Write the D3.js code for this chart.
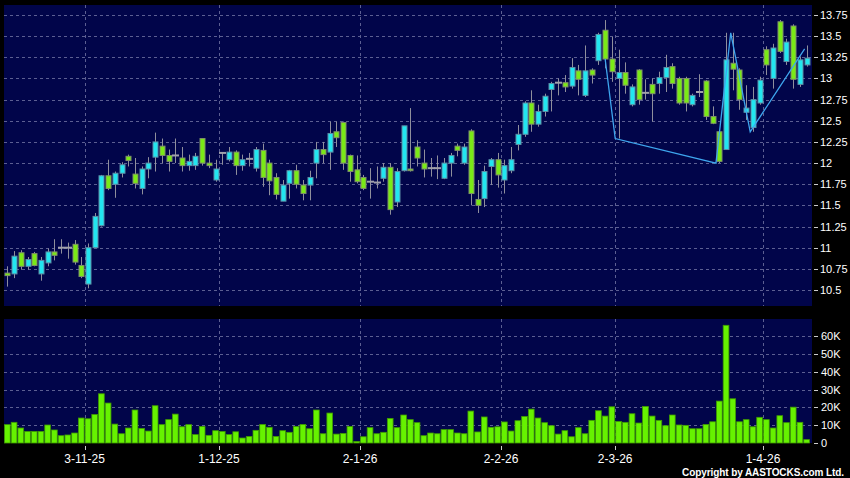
<!DOCTYPE html>
<html><head><meta charset="utf-8">
<script src="https://cdn.jsdelivr.net/npm/d3@7"></script>
<style>html,body{margin:0;padding:0;background:#000;}svg{display:block;}</style>
</head><body><svg id="c" width="850" height="478"></svg>
<script>
// ---- DATA (index 0 = first trading day shown) ----
const opens  = [10.70,10.69,10.94,10.78,10.93,10.69,10.82,10.95,11.00,11.00,11.04,10.79,10.57,11.00,11.26,11.85,11.75,11.88,12.08,11.87,
                11.70,11.93,12.07,12.20,12.09,12.09,12.06,11.97,11.97,12.29,12.00,11.80,12.12,12.04,12.13,11.97,12.05,11.94,12.15,12.00,
                11.83,11.55,11.76,11.91,11.74,11.74,12.00,12.16,12.13,12.37,12.48,12.09,11.92,11.83,11.78,11.77,11.82,11.95,11.54,11.91,
                11.93,12.19,12.00,11.94,11.94,11.82,12.00,12.20,12.00,12.38,11.57,11.58,11.96,12.04,11.80,11.91,12.22,12.34,12.71,12.46,
                12.61,12.87,12.95,12.95,12.91,13.09,12.80,13.10,13.21,13.57,13.23,13.00,13.07,12.69,13.10,12.83,12.93,12.94,13.01,13.14,
                13.00,13.00,12.69,12.84,12.97,12.55,12.37,12.16,13.18,13.10,12.60,12.42,12.71,13.34,13.00,13.67,13.20,13.62,12.93,13.16];
const highs  = [10.78,10.96,10.97,10.89,10.95,10.89,10.99,11.10,11.10,11.06,11.09,10.89,11.05,11.41,11.86,12.04,11.90,12.01,12.10,12.06,
                11.96,12.07,12.36,12.29,12.16,12.29,12.19,12.10,12.12,12.29,12.10,12.04,12.12,12.19,12.15,12.10,12.12,12.19,12.23,12.04,
                11.88,11.80,11.92,11.98,11.80,11.91,12.25,12.25,12.49,12.49,12.49,12.10,12.09,11.86,11.94,11.96,12.00,12.00,11.94,12.44,
                12.65,12.27,12.16,12.06,12.09,12.06,12.12,12.23,12.23,12.40,11.80,11.97,12.06,12.12,12.04,12.19,12.45,12.73,12.86,12.69,
                12.82,12.96,13.00,13.04,13.24,13.16,13.39,13.12,13.54,13.69,13.49,13.34,13.19,12.93,13.11,12.99,13.00,13.08,13.28,13.18,
                13.02,13.02,12.82,13.05,12.98,12.67,12.37,13.54,13.54,13.12,12.92,12.90,13.02,13.38,13.41,13.69,13.47,13.64,13.26,13.39];
const lows   = [10.54,10.64,10.74,10.74,10.78,10.61,10.78,10.85,10.93,10.87,10.80,10.64,10.52,11.00,11.25,11.68,11.59,11.83,11.96,11.70,
                11.63,11.82,11.90,12.00,11.90,12.00,11.90,11.91,11.92,11.97,11.94,11.78,11.98,12.02,11.86,11.91,11.96,11.90,11.72,11.62,
                11.57,11.55,11.58,11.70,11.56,11.56,11.82,12.00,11.92,12.19,11.92,11.78,11.76,11.68,11.58,11.70,11.78,11.39,11.48,11.90,
                11.90,11.96,11.83,11.84,11.81,11.81,11.84,12.08,11.98,11.50,11.41,11.48,11.74,11.71,11.64,11.88,12.15,12.31,12.37,12.43,
                12.55,12.61,12.80,12.84,12.88,12.80,12.78,12.94,13.16,13.12,12.96,12.29,12.82,12.67,12.69,12.75,12.49,12.82,12.84,12.88,
                12.69,12.61,12.67,12.78,12.51,12.46,12.00,12.16,12.86,12.63,12.51,12.37,12.69,13.04,12.88,13.30,13.16,12.88,12.90,13.14];
const closes = [10.67,10.90,10.78,10.86,10.79,10.85,10.95,10.91,11.00,11.00,10.83,10.66,11.00,11.37,11.85,11.70,11.88,11.98,12.03,11.76,
                11.93,12.00,12.25,12.09,12.02,12.09,11.97,12.02,12.08,12.00,11.97,11.93,12.12,12.13,11.97,12.04,12.05,12.16,11.83,11.79,
                11.63,11.74,11.91,11.75,11.64,11.83,12.16,12.10,12.35,12.30,12.00,11.90,11.78,11.70,11.78,11.77,11.95,11.45,11.90,12.44,
                11.91,12.06,11.93,11.94,11.94,12.00,12.09,12.15,12.19,11.64,11.50,11.90,12.04,11.86,11.97,12.04,12.34,12.71,12.46,12.61,
                12.79,12.94,12.95,12.90,13.13,12.99,13.09,13.04,13.52,13.23,13.08,13.07,12.92,12.90,12.75,12.83,12.82,13.01,13.13,12.94,
                12.71,12.71,12.80,12.84,12.55,12.47,12.02,13.22,13.11,12.75,12.65,12.75,12.98,13.16,13.36,13.32,13.43,12.99,13.22,13.24];
const volumesK = [10.3,11.6,8.4,6.5,6.5,6.5,10.1,7.3,4.1,4.5,5.6,14.0,13.6,16.0,27.6,22.4,10.6,5.2,8.4,18.5,
                  8.2,6.7,20.9,10.3,13.1,16.2,9.1,10.3,4.7,9.3,4.3,6.9,6.5,4.7,6.3,2.8,3.7,7.1,10.4,8.8,
                  3.7,6.9,6.0,9.3,10.4,8.0,18.5,5.2,16.8,5.0,5.4,9.3,0.9,3.5,8.6,5.2,6.0,13.8,8.6,15.7,
                  13.1,11.4,4.1,5.6,5.2,7.5,7.5,5.6,5.2,17.9,6.2,14.6,8.8,9.1,11.8,6.7,12.5,14.9,19.0,14.0,
                  11.4,9.7,5.0,6.9,3.5,8.6,5.2,12.7,18.1,15.1,20.3,12.1,11.6,16.4,11.2,20.5,15.1,12.7,9.7,15.7,
                  10.1,9.9,8.0,8.0,10.4,11.9,23.5,66.0,24.8,11.9,13.1,9.1,14.4,13.1,8.4,15.3,11.4,20.1,11.6,1.9];
const xTickIndex  = [11, 31, 52, 73, 90, 112];
const xTickLabels = ["3-11-25","1-12-25","2-1-26","2-2-26","2-3-26","1-4-26"];
const priceTicks  = [10.5,10.75,11,11.25,11.5,11.75,12,12.25,12.5,12.75,13,13.25,13.5,13.75];
const volTicksK   = [0,10,20,30,40,50,60];
const zigzagIndex = [89, 90.5, 105.5, 107.7, 110.6, 118.7];
const zigzagValue = [13.23, 12.29, 12.00, 13.54, 12.37, 13.35];

// ---- LAYOUT ----
const W=850,H=478;
const L=4, R=812, candleR=810;
const pTop=5, pBot=306, vTop=319, vBot=443;
const C = {bg:"#000000", panel:"#01054a", grid:"#5c5f92", up:"#22e6f0", down:"#7aea16",
           wick:"#8f8f9c", doji:"#a0a0aa", vol:"#66f200", volStroke:"#3f9a00", zz:"#3ea6ee", text:"#ffffff"};

const svg=d3.select("#c");
svg.append("rect").attr("width",W).attr("height",H).attr("fill",C.bg);

const n=opens.length;
const x=d3.scaleLinear().domain([-0.5,n-0.5]).range([L,candleR]);
const bw=x(1)-x(0);
const y=d3.scaleLinear().domain([10.5,13.75]).range([290,15]);
const yv=d3.scaleLinear().domain([0,60]).range([vBot,336]);

// panels
svg.append("rect").attr("x",L).attr("y",pTop).attr("width",R-L).attr("height",pBot-pTop).attr("fill",C.panel);
svg.append("rect").attr("x",L).attr("y",vTop).attr("width",R-L).attr("height",vBot-vTop).attr("fill",C.panel);

const grid=svg.append("g").attr("stroke",C.grid).attr("stroke-width",1).attr("stroke-dasharray","3,3").attr("shape-rendering","crispEdges");
grid.selectAll(".hp").data(priceTicks).join("line").attr("x1",L).attr("x2",R)
  .attr("y1",d=>Math.round(y(d))+0.5).attr("y2",d=>Math.round(y(d))+0.5);
grid.selectAll(".hv").data(volTicksK.slice(1)).join("line").attr("x1",L).attr("x2",R)
  .attr("y1",d=>Math.round(yv(d))+0.5).attr("y2",d=>Math.round(yv(d))+0.5);
const gx=d=>Math.round(x(d)+bw/2)+0.5;
grid.selectAll(".vp").data(xTickIndex).join("line").attr("x1",gx).attr("x2",gx).attr("y1",pTop).attr("y2",pBot);
grid.selectAll(".vv").data(xTickIndex).join("line").attr("x1",gx).attr("x2",gx).attr("y1",vTop).attr("y2",vBot);

// candles
const idx=d3.range(n);
const cg=svg.append("g");
cg.selectAll(".w").data(idx).join("line")
  .attr("x1",i=>Math.round(x(i))+0.5).attr("x2",i=>Math.round(x(i))+0.5)
  .attr("y1",i=>y(highs[i])).attr("y2",i=>y(lows[i]))
  .attr("stroke",C.wick).attr("stroke-width",1);
const bodies=idx.filter(i=>opens[i]!==closes[i]);
cg.selectAll(".b").data(bodies).join("rect")
  .attr("x",i=>Math.round(x(i))-2).attr("width",5)
  .attr("y",i=>y(Math.max(opens[i],closes[i])))
  .attr("height",i=>Math.max(1,Math.abs(y(opens[i])-y(closes[i]))))
  .attr("fill",i=>closes[i]>opens[i]?C.up:C.down)
  .attr("stroke",i=>closes[i]>opens[i]?"#5d8ea6":"#7f8f6a").attr("stroke-width",1);
const dojis=idx.filter(i=>opens[i]===closes[i]);
cg.selectAll(".d").data(dojis).join("line")
  .attr("x1",i=>Math.round(x(i))-3).attr("x2",i=>Math.round(x(i))+4)
  .attr("y1",i=>y(opens[i])).attr("y2",i=>y(opens[i]))
  .attr("stroke",C.doji).attr("stroke-width",2);

// zigzag
const zz=d3.line().x(d=>x(d[0])).y(d=>y(d[1]));
svg.append("path").datum(zigzagIndex.map((d,i)=>[d,zigzagValue[i]]))
  .attr("d",zz).attr("fill","none").attr("stroke",C.zz).attr("stroke-width",1.3);

// volume
svg.append("g").selectAll("rect").data(idx).join("rect")
  .attr("x",i=>x(i)-bw/2+0.5).attr("width",bw-1)
  .attr("y",i=>yv(volumesK[i])).attr("height",i=>vBot-yv(volumesK[i]))
  .attr("fill",C.vol).attr("stroke",C.volStroke).attr("stroke-width",0.8);

// right axes
const font="'Liberation Sans', Arial, sans-serif";
const ra=svg.append("g").attr("font-family",font).attr("font-size",11).attr("fill",C.text);
ra.selectAll(".pt").data(priceTicks).join("line").attr("x1",814).attr("x2",818)
  .attr("y1",d=>Math.round(y(d))+0.5).attr("y2",d=>Math.round(y(d))+0.5).attr("stroke","#cccccc");
ra.selectAll(".pl").data(priceTicks).join("text").attr("x",820).attr("y",d=>y(d)+4)
  .text(d=>d3.format("")(d));
ra.selectAll(".vt").data(volTicksK).join("line").attr("x1",814).attr("x2",818)
  .attr("y1",d=>Math.round(yv(d))+0.5).attr("y2",d=>Math.round(yv(d))+0.5).attr("stroke","#cccccc");
ra.selectAll(".vl").data(volTicksK).join("text").attr("x",821).attr("y",d=>yv(d)+4)
  .text(d=>d===0?"0":d+"K");

// x axis
const xa=svg.append("g").attr("font-family",font).attr("font-size",12).attr("fill",C.text);
xa.selectAll("line").data(xTickIndex).join("line").attr("x1",gx).attr("x2",gx).attr("y1",446).attr("y2",450).attr("stroke","#cccccc");
xa.selectAll("text").data(xTickIndex).join("text").attr("x",d=>x(d)+bw/2).attr("y",462.5)
  .attr("text-anchor","middle").text((d,i)=>xTickLabels[i]);

svg.append("text").attr("x",844).attr("y",475.5).attr("text-anchor","end")
  .attr("font-family",font).attr("font-size",10).attr("font-weight","bold").attr("fill",C.text)
  .attr("textLength",162).attr("lengthAdjust","spacing").text("Copyright by AASTOCKS.com Ltd.");
</script></body></html>
